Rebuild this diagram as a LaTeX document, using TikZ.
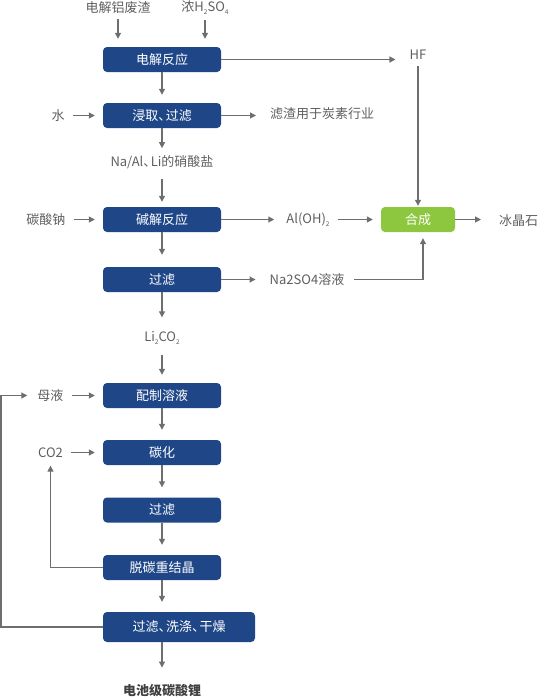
\documentclass[tikz,border=0pt]{standalone}
\usepackage{fontspec}
\setmainfont{Noto Sans CJK SC}
\usetikzlibrary{arrows.meta}
\definecolor{procblue}{RGB}{31,71,136}
\definecolor{syngreen}{RGB}{141,198,63}
\definecolor{linegray}{RGB}{110,110,110}
\definecolor{textgray}{RGB}{95,95,95}
\newcommand{\chemsub}[1]{\raisebox{-0.4ex}{\fontsize{6.5}{7}\selectfont #1}}
\newcommand{\dunhao}{、\kern-5.5pt}

\begin{document}
\begin{tikzpicture}[x=1pt,y=-1pt,
  font=\fontsize{13}{15}\selectfont,
  proc/.style={fill=procblue,rounded corners=4pt,text=white,minimum width=118pt,minimum height=25pt,inner sep=0pt},
  lbl/.style={text=textgray,inner sep=0pt},
  flow/.style={draw=linegray,line width=1.2pt,shorten >=8pt,-{Triangle[length=6pt,width=6pt]}}]
  \useasboundingbox (0,0) rectangle (539,697);
  \coordinate (loopx) at (1,0);
  % main column
  \node[lbl] (waste) at (118,8) {电解铝废渣};
  \node[lbl] (acid) at (205,8) {浓H\chemsub{2}SO\chemsub{4}};
  \node[proc] (react) at (162,59.5) {电解反应};
  \node[lbl] (hf) at (418,55) {HF};
  \node[lbl] (water) at (58,115.5) {水};
  \node[proc] (leach) at (162,115.5) {浸取\dunhao 过滤};
  \node[lbl,anchor=west] (residue) at (270,114) {滤渣用于炭素行业};
  \node[lbl] (nitrate) at (162,162) {Na/Al\dunhao Li的硝酸盐};
  \node[lbl] (soda) at (46,219.5) {碳酸钠};
  \node[proc] (alkali) at (162,219.5) {碱解反应};
  \node[lbl] (aloh) at (308,219.5) {Al(OH)\chemsub{2}};
  \node[proc,fill=syngreen,minimum width=74pt] (synth) at (418,219.5) {合成};
  \node[lbl,anchor=west] (cryo) at (499,221) {冰晶石};
  \node[proc] (filterA) at (162,279.5) {过滤};
  \node[lbl] (sulfate) at (307,279.5) {Na2SO4溶液};
  \node[lbl] (carb) at (162,338) {Li\chemsub{2}CO\chemsub{2}};
  \node[lbl] (mother) at (50.5,395.5) {母液};
  \node[proc] (prep) at (162,395.5) {配制溶液};
  \node[lbl] (co2) at (50.5,452.5) {CO2};
  \node[proc] (carbon) at (162,452.5) {碳化};
  \node[proc] (filterB) at (162,510) {过滤};
  \node[proc] (recryst) at (162,567.5) {脱碳重结晶};
  \node[proc,minimum width=152pt,minimum height=30pt] (finish) at (179,627) {过滤\dunhao 洗涤\dunhao 干燥};
  \node[lbl,font=\fontsize{13}{15}\selectfont\bfseries,text=black!75] (product) at (162,691) {电池级碳酸锂};
  % connectors
  \draw[flow,shorten <=5pt] (waste.south) -- (waste.south |- react.north);
  \draw[flow,shorten <=5pt] (acid.south) -- (acid.south |- react.north);
  \draw[flow] (react) -- (leach);
  \draw[flow,shorten >=14pt] (react.east) -- (react.east -| hf.west);
  \draw[flow,shorten <=6pt,shorten >=1pt] (hf.south) -- (synth.north);
  \draw[flow,shorten <=8pt] (water) -- (leach);
  \draw[flow,shorten >=14pt] (leach) -- (leach -| residue.west);
  \draw[flow,shorten >=7pt] (leach) -- (nitrate);
  \draw[flow,shorten <=10pt,shorten >=5pt] (nitrate) -- (alkali);
  \draw[flow,shorten <=8pt] (soda) -- (alkali);
  \draw[flow,shorten >=12pt] (alkali) -- (aloh);
  \draw[flow,shorten <=8pt] (aloh) -- (synth);
  \draw[flow,shorten >=18pt] (synth) -- (synth -| cryo.west);
  \draw[flow,shorten >=12pt] (alkali) -- (filterA);
  \draw[flow,shorten >=14pt] (filterA) -- (sulfate);
  \draw[flow,shorten <=10pt,shorten >=6pt] (sulfate.east) -| ([xshift=5pt]synth.south);
  \draw[flow,shorten >=14pt] (filterA) -- (carb);
  \draw[flow,shorten <=10pt] (carb) -- (prep);
  \draw[flow,shorten <=8pt] (mother) -- (prep);
  \draw[flow,shorten >=10pt] (prep) -- (carbon);
  \draw[flow,shorten <=8pt] (co2) -- (carbon);
  \draw[flow,shorten >=10pt] (carbon) -- (filterB);
  \draw[flow,shorten >=10pt] (filterB) -- (recryst);
  \draw[flow,shorten >=10pt] (recryst) -- (recryst |- finish.north);
  \draw[flow] (recryst.west) -| (co2.south);
  \draw[flow,shorten >=10pt] (finish.west) -- (finish.west -| loopx) |- (mother.west);
  \draw[flow,shorten >=17pt] (finish.south -| product) -- (product.north);
\end{tikzpicture}
\end{document}
